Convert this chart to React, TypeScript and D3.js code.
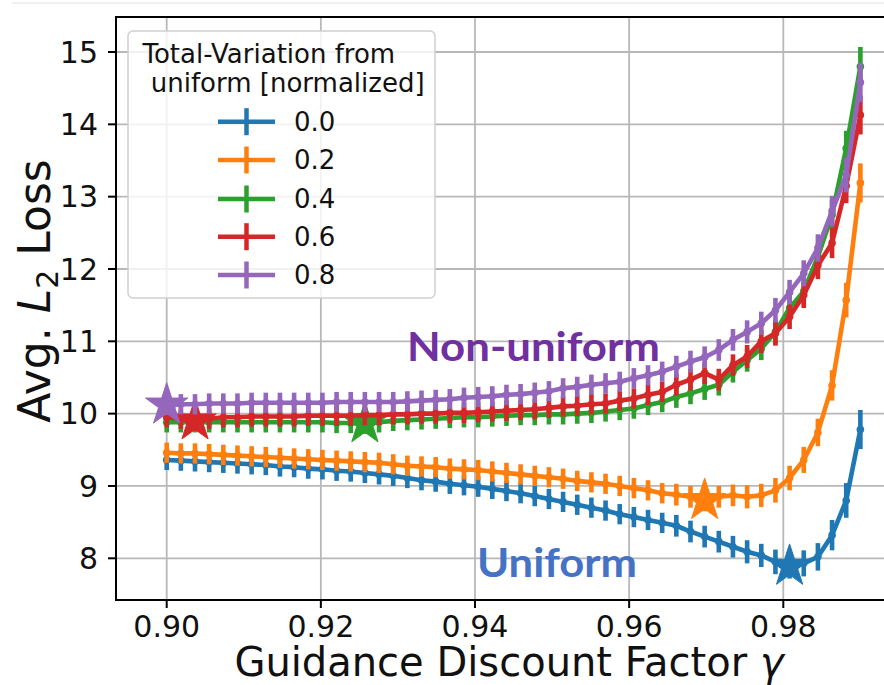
import React from 'react';
import * as d3 from 'd3';

// Discount factors evaluated (50 settings between 0.90 and 0.99)
const gammas = [
  0.9, 0.901837, 0.903673, 0.90551, 0.907347, 0.909184, 0.91102, 0.912857, 0.914694, 0.916531,
  0.918367, 0.920204, 0.922041, 0.923878, 0.925714, 0.927551, 0.929388, 0.931224, 0.933061, 0.934898,
  0.936735, 0.938571, 0.940408, 0.942245, 0.944082, 0.945918, 0.947755, 0.949592, 0.951429, 0.953265,
  0.955102, 0.956939, 0.958776, 0.960612, 0.962449, 0.964286, 0.966122, 0.967959, 0.969796, 0.971633,
  0.973469, 0.975306, 0.977143, 0.97898, 0.980816, 0.982653, 0.98449, 0.986327, 0.988163, 0.99,
];

const tvLevels = ['0.0', '0.2', '0.4', '0.6', '0.8'];
const seriesColors = ['#1f77b4', '#ff7f0e', '#2ca02c', '#d62728', '#9467bd'];

const lossTv00 = [
  9.36, 9.35, 9.34, 9.33, 9.32, 9.31, 9.3, 9.29, 9.27, 9.26,
  9.24, 9.23, 9.21, 9.2, 9.18, 9.16, 9.14, 9.11, 9.08, 9.06,
  9.03, 9.01, 8.99, 8.96, 8.93, 8.9, 8.86, 8.82, 8.78, 8.74,
  8.7, 8.66, 8.61, 8.57, 8.53, 8.49, 8.45, 8.37, 8.3, 8.23,
  8.16, 8.09, 8.04, 7.95, 7.89, 7.93, 8.02, 8.32, 8.8, 9.78,
];
const lossTv02 = [
  9.46, 9.45, 9.45, 9.44, 9.43, 9.42, 9.41, 9.4, 9.39, 9.38,
  9.37, 9.36, 9.35, 9.34, 9.33, 9.32, 9.3, 9.28, 9.27, 9.26,
  9.24, 9.23, 9.22, 9.2, 9.18, 9.16, 9.14, 9.12, 9.1, 9.07,
  9.05, 9.03, 9.0, 8.97, 8.94, 8.9, 8.88, 8.85, 8.8, 8.85,
  8.87, 8.85, 8.87, 8.94, 9.11, 9.36, 9.74, 10.39, 11.57, 13.19,
];
const lossTv04 = [
  9.88, 9.88, 9.88, 9.88, 9.88, 9.88, 9.88, 9.88, 9.88, 9.88,
  9.88, 9.88, 9.87, 9.87, 9.86, 9.88, 9.9, 9.91, 9.92, 9.93,
  9.94, 9.95, 9.95, 9.96, 9.97, 9.98, 9.98, 9.99, 9.99, 10.0,
  10.01, 10.03, 10.05, 10.07, 10.12, 10.16, 10.23, 10.28, 10.34, 10.4,
  10.58, 10.74, 10.9, 11.13, 11.46, 11.69, 12.17, 12.75, 13.67, 14.8,
];
const lossTv06 = [
  9.95, 9.93, 9.9, 9.93, 9.95, 9.95, 9.96, 9.96, 9.96, 9.96,
  9.97, 9.97, 9.97, 9.97, 9.98, 9.98, 9.99, 9.99, 10.0, 10.0,
  10.01, 10.01, 10.02, 10.03, 10.04, 10.05, 10.06, 10.08, 10.1, 10.11,
  10.13, 10.14, 10.18, 10.21, 10.26, 10.3, 10.4, 10.47, 10.56, 10.47,
  10.67, 10.79, 11.0, 11.11, 11.34, 11.64, 12.05, 12.36, 13.15, 14.13,
];
const lossTv08 = [
  10.12, 10.13, 10.13, 10.14, 10.14, 10.14, 10.15, 10.15, 10.15, 10.15,
  10.15, 10.15, 10.16, 10.16, 10.16, 10.16, 10.16, 10.17, 10.18, 10.19,
  10.2, 10.22, 10.23, 10.24, 10.26, 10.27, 10.29, 10.31, 10.35, 10.37,
  10.4, 10.42, 10.44, 10.49, 10.53, 10.58, 10.65, 10.72, 10.78, 10.88,
  11.02, 11.13, 11.25, 11.43, 11.68, 11.94, 12.29, 12.8, 13.3, 14.58,
];

// Half-width of the spread shown as vertical error bars
const errHalf = [
  0.14, 0.14, 0.14, 0.14, 0.14, 0.14, 0.14, 0.14, 0.14, 0.14,
  0.14, 0.14, 0.14, 0.14, 0.14, 0.14, 0.14, 0.14, 0.14, 0.14,
  0.14, 0.14, 0.14, 0.14, 0.14, 0.14, 0.14, 0.14, 0.14, 0.14,
  0.14, 0.14, 0.14, 0.14, 0.14, 0.14, 0.15, 0.15, 0.15, 0.15,
  0.15, 0.16, 0.16, 0.17, 0.17, 0.18, 0.19, 0.21, 0.24, 0.27,
];

const lossSeries = [lossTv00, lossTv02, lossTv04, lossTv06, lossTv08];

const xTicks = [0.9, 0.92, 0.94, 0.96, 0.98];
const yTicks = [8, 9, 10, 11, 12, 13, 14, 15];

const W = 884;
const H = 685;
const plot = { left: 116, right: 902, top: 17, bottom: 600 };
const FONT = '"DejaVu Sans", sans-serif';

export default function App() {
  const x = d3.scaleLinear().domain([0.9, 0.98]).range([166.7, 783.3]);
  const y = d3.scaleLinear().domain([8, 15]).range([558.3, 52]);

  const line = d3
    .line<number>()
    .x((_, i) => x(gammas[i]))
    .y((d) => y(d));

  // best (lowest-loss) discount factor of each curve is marked with a star
  const star = d3.symbol(d3.symbolStar, 560)() as string;

  const legendRows = [121.7, 160, 199, 236.7, 275];

  return (
    <svg
      width={W}
      height={H}
      style={{ position: 'absolute', left: 0, top: 0, background: '#fff' }}
      fontFamily={FONT}
    >
      <defs>
        <clipPath id="plotArea">
          <rect x={plot.left} y={plot.top} width={plot.right - plot.left} height={plot.bottom - plot.top} />
        </clipPath>
      </defs>
      <rect x={0} y={0} width={W} height={H} fill="#fff" />
      <line x1={12} x2={W} y1={3} y2={3} stroke="#e2e2e2" strokeWidth={1} />

      {/* grid */}
      <g stroke="#b8b8b8" strokeWidth={1.8}>
        {xTicks.map((t) => (
          <line key={'gx' + t} x1={x(t)} x2={x(t)} y1={plot.top} y2={plot.bottom} />
        ))}
        {yTicks.map((t) => (
          <line key={'gy' + t} x1={plot.left} x2={plot.right} y1={y(t)} y2={y(t)} />
        ))}
      </g>

      {/* series */}
      <g clipPath="url(#plotArea)">
        {lossSeries.map((vals, s) => {
          const c = seriesColors[s];
          const minI = d3.minIndex(vals);
          return (
            <g key={'s' + s}>
              <path d={line(vals) as string} fill="none" stroke={c} strokeWidth={4.6} strokeLinejoin="round" />
              {vals.map((v, i) => (
                <line
                  key={'e' + i}
                  x1={x(gammas[i])}
                  x2={x(gammas[i])}
                  y1={y(v - errHalf[i])}
                  y2={y(v + errHalf[i])}
                  stroke={c}
                  strokeWidth={4.6}
                />
              ))}
              {vals.map((v, i) => (
                <circle key={'m' + i} cx={x(gammas[i])} cy={y(v)} r={3.8} fill={c} />
              ))}
              <path
                d={star}
                transform={`translate(${x(gammas[minI])},${y(vals[minI])})`}
                fill={c}
                stroke={c}
                strokeWidth={1}
              />
            </g>
          );
        })}
      </g>

      {/* annotations */}
      <text
        x={407}
        y={361}
        fontFamily="Lato, sans-serif"
        fontWeight={700}
        fontSize={40}
        fill="#7030A0"
        textLength={253}
        lengthAdjust="spacingAndGlyphs"
      >
        Non-uniform
      </text>
      <text
        x={477}
        y={577}
        fontFamily="Lato, sans-serif"
        fontWeight={700}
        fontSize={40}
        fill="#4472C4"
        textLength={160}
        lengthAdjust="spacingAndGlyphs"
      >
        Uniform
      </text>

      {/* spines */}
      <g stroke="#000" strokeWidth={2}>
        <line x1={plot.left} x2={plot.left} y1={plot.top} y2={plot.bottom + 1} />
        <line x1={plot.left - 1} x2={plot.right} y1={plot.bottom} y2={plot.bottom} />
        <line x1={plot.left - 1} x2={plot.right} y1={plot.top} y2={plot.top} />
      </g>

      {/* y ticks */}
      {yTicks.map((t) => (
        <g key={'yt' + t}>
          <line x1={plot.left - 8} x2={plot.left} y1={y(t)} y2={y(t)} stroke="#000" strokeWidth={2} />
          <text x={98} y={y(t)} dy="0.36em" textAnchor="end" fontSize={30} fill="#111">
            {t}
          </text>
        </g>
      ))}
      {/* x ticks */}
      {xTicks.map((t) => (
        <g key={'xt' + t}>
          <line x1={x(t)} x2={x(t)} y1={plot.bottom} y2={plot.bottom + 8} stroke="#000" strokeWidth={2} />
          <text x={x(t)} y={637} textAnchor="middle" fontSize={30} fill="#111">
            {d3.format('.2f')(t)}
          </text>
        </g>
      ))}

      {/* axis labels */}
      <text x={509} y={676} textAnchor="middle" fontSize={40} fill="#111">
        Guidance Discount Factor <tspan fontStyle="italic">γ</tspan>
      </text>
      <text transform="translate(50,291) rotate(-90)" textAnchor="middle" fontSize={44} fill="#111">
        Avg. <tspan fontStyle="italic">L</tspan>
        <tspan fontSize={30} dy={8}>2</tspan>
        <tspan dy={-8}> Loss</tspan>
      </text>

      {/* legend */}
      <g>
        <rect x={128} y={31} width={307} height={267} rx={5} fill="#fff" fillOpacity={0.8} stroke="#d0d0d0" strokeWidth={1.5} />
        <text x={142.5} y={62.7} fontSize={26} fill="#111">
          Total-Variation from
        </text>
        <text x={142.5} y={91.7} fontSize={26} fill="#111" xmlSpace="preserve">
          {' uniform [normalized]'}
        </text>
        {tvLevels.map((lab, s) => {
          const ry = legendRows[s];
          const c = seriesColors[s];
          return (
            <g key={'lg' + s}>
              <line x1={218} x2={275} y1={ry} y2={ry} stroke={c} strokeWidth={4.5} />
              <line x1={246.5} x2={246.5} y1={ry - 13.5} y2={ry + 13.5} stroke={c} strokeWidth={4.5} />
              <text x={294} y={ry} dy="0.36em" fontSize={26} fill="#111">
                {lab}
              </text>
            </g>
          );
        })}
      </g>
    </svg>
  );
}
